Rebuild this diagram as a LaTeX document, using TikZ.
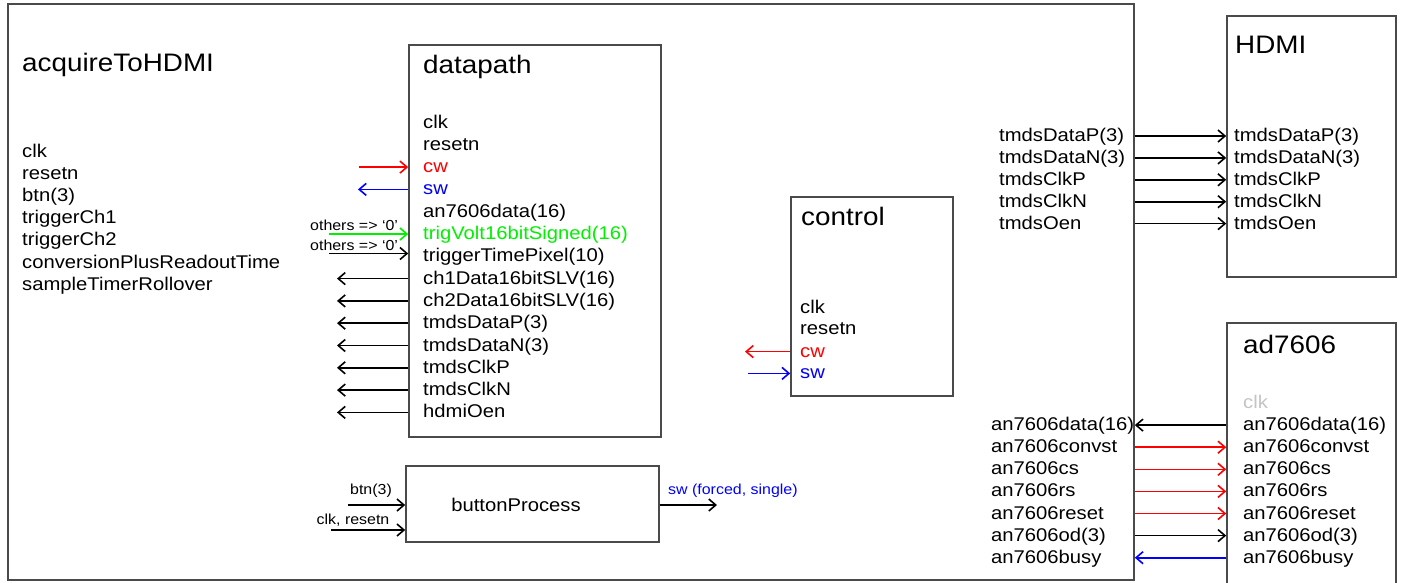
\documentclass[tikz,border=0pt]{standalone}
\usepackage{fontspec}
\setmainfont{Liberation Sans}[FakeStretch=1.1]
\usetikzlibrary{arrows.meta}
\definecolor{boxgray}{HTML}{4A4A4A}
\definecolor{sigred}{HTML}{FF0000}
\definecolor{sigblue}{HTML}{0000FF}
\definecolor{siggreen}{HTML}{00F000}
\definecolor{clkgray}{HTML}{C4C4C4}
\newcommand\myPortFont{\fontsize{18.4}{21}\selectfont}
\newcommand\myTitleFont{\fontsize{25.3}{29}\selectfont}
\newcommand\mySmallFont{\fontsize{14.5}{17}\selectfont}
\begin{document}
\begin{tikzpicture}[x=1pt,y=-1pt,
  blockbox/.style={draw=boxgray, line width=1.6pt, inner sep=0pt, fill=none},
  port/.style={anchor=west, inner sep=0pt, font=\myPortFont, text height=11pt, text depth=0pt},
  ttl/.style={anchor=base west, inner sep=0pt, font=\myTitleFont},
  smalltxt/.style={inner sep=0pt, font=\mySmallFont},
  sig/.style={line width=1.6pt, -{Straight Barb[length=7pt,width=12pt,line width=1.6pt]}}
]
\clip (0,0) rectangle (1403,582);
\fill[white] (0,0) rectangle (1403,582);

% ---------- blocks ----------
\node[blockbox, minimum width=1126pt, minimum height=576pt] (top) at (571,292) {};
\node[blockbox, minimum width=252pt, minimum height=392pt] (dp) at (535,241) {};
\node[blockbox, minimum width=253pt, minimum height=76pt] (bp) at (532.5,504) {};
\node[blockbox, minimum width=162pt, minimum height=199pt] (ctrl) at (872,296.5) {};
\node[blockbox, minimum width=169pt, minimum height=261pt] (hdmi) at (1311.5,146.5) {};
\node[blockbox, minimum width=169pt, minimum height=317pt] (ad) at (1311.5,481.5) {};

% ---------- acquireToHDMI ----------
\node[ttl] (toptitle) at (22,71) {acquireToHDMI};
\foreach \t [count=\i from 0] in {clk,resetn,btn(3),triggerCh1,triggerCh2,conversionPlusReadoutTime,sampleTimerRollover}
  \node[port] (tl\i) at (22,151.5+22.2*\i) {\t};

% ---------- datapath ----------
\node[ttl] (dptitle) at (423,73) {datapath};
\node[port] (dpl0) at (423,122.5) {clk};
\node[port] (dpl1) at (423,144.8) {resetn};
\node[port, text=sigred] (dpl2) at (423,167.1) {cw};
\node[port, text=sigblue] (dpl3) at (423,189.4) {sw};
\node[port] (dpl4) at (423,211.7) {an7606data(16)};
\node[port, text=siggreen] (dpl5) at (423,234.0) {trigVolt16bitSigned(16)};
\node[port] (dpl6) at (423,256.3) {triggerTimePixel(10)};
\node[port] (dpl7) at (423,278.6) {ch1Data16bitSLV(16)};
\node[port] (dpl8) at (423,300.9) {ch2Data16bitSLV(16)};
\node[port] (dpl9) at (423,323.2) {tmdsDataP(3)};
\node[port] (dpl10) at (423,345.5) {tmdsDataN(3)};
\node[port] (dpl11) at (423,367.8) {tmdsClkP};
\node[port] (dpl12) at (423,390.1) {tmdsClkN};
\node[port] (dpl13) at (423,412.4) {hdmiOen};

\coordinate (cwsrc) at (359,167.1);
\coordinate (swdst) at (358,189.4);
\coordinate (trvsrc) at (329,234.0);
\coordinate (trtsrc) at (329,253.5);
\coordinate (dpoutx) at (337,0);
\draw[sig, sigred] (cwsrc) -- (dp.west |- dpl2.west);
\draw[sig, sigblue] (dp.west |- dpl3.west) -- (swdst);
\draw[sig, siggreen] (trvsrc) -- (dp.west |- trvsrc);
\draw[sig] (trtsrc) -- (dp.west |- trtsrc);
\node[smalltxt, anchor=west] (oth1) at (310,225) {others => ‘0’};
\node[smalltxt, anchor=west] (oth2) at (310,245) {others => ‘0’};
\foreach \i in {7,...,13}
  \draw[sig] (dp.west |- dpl\i.west) -- (dpoutx |- dpl\i.west);

% ---------- buttonProcess ----------
\node[anchor=center, inner sep=0pt, font=\myPortFont] (bptext) at (516,505) {buttonProcess};
\coordinate (btnsrc) at (348,505);
\coordinate (clksrc) at (331,530);
\coordinate (bpout) at (717,505);
\draw[sig] (btnsrc) -- (bp.west |- btnsrc);
\draw[sig] (clksrc) -- (bp.west |- clksrc);
\draw[sig] (bp.east |- bpout) -- (bpout);
\node[smalltxt] (btnlab) at (371,491) {btn(3)};
\node[smalltxt] (clklab) at (353,520) {clk, resetn};
\node[smalltxt, anchor=west, text=sigblue] (swlab) at (668,491) {sw (forced, single)};

% ---------- control ----------
\node[ttl] (ctitle) at (801,225) {control};
\node[port] (cl0) at (800,307.5) {clk};
\node[port] (cl1) at (800,329.3) {resetn};
\node[port, text=sigred] (cl2) at (800,351.6) {cw};
\node[port, text=sigblue] (cl3) at (800,373.4) {sw};
\coordinate (ccwdst) at (745,351.6);
\coordinate (cswsrc) at (748,373.4);
\draw[sig, sigred] (ctrl.west |- cl2.west) -- (ccwdst);
\draw[sig, sigblue] (cswsrc) -- (ctrl.west |- cl3.west);

% ---------- HDMI ----------
\node[ttl] (htitle) at (1235,53) {HDMI};
\foreach \t [count=\i from 0] in {tmdsDataP(3),tmdsDataN(3),tmdsClkP,tmdsClkN,tmdsOen}{
  \node[port] (ho\i) at (999,136+21.9*\i) {\t};
  \node[port] (hi\i) at (1234,136+21.9*\i) {\t};
  \draw[sig] (top.east |- hi\i.west) -- (hdmi.west |- hi\i.west);
}

% ---------- ad7606 ----------
\node[ttl] (atitle) at (1243,353) {ad7606};
\node[port, text=clkgray] (ai0) at (1243,403) {clk};
\foreach \t [count=\i from 1] in {an7606data(16),an7606convst,an7606cs,an7606rs,an7606reset,an7606od(3),an7606busy}{
  \node[port] (ai\i) at (1243,403+22.1*\i) {\t};
  \node[port] (ao\i) at (991,403+22.1*\i) {\t};
}
\draw[sig] (ad.west |- ai1.west) -- (top.east |- ai1.west);
\foreach \i in {2,...,5}
  \draw[sig, sigred] (top.east |- ai\i.west) -- (ad.west |- ai\i.west);
\draw[sig] (top.east |- ai6.west) -- (ad.west |- ai6.west);
\draw[sig, sigblue] (ad.west |- ai7.west) -- (top.east |- ai7.west);
\end{tikzpicture}
\end{document}
